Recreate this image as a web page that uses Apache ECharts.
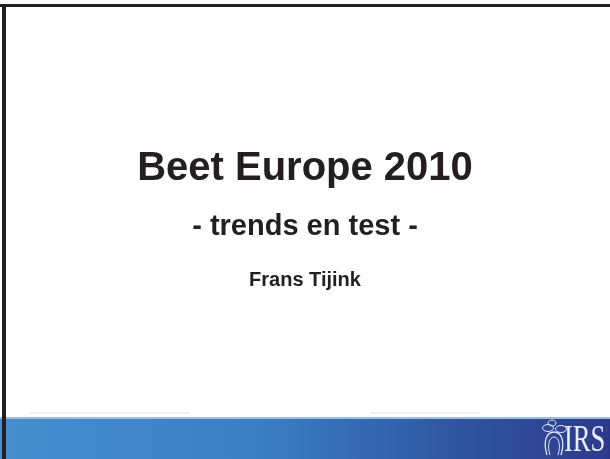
<!DOCTYPE html>
<html>
<head>
<meta charset="utf-8">
<script src="https://cdn.jsdelivr.net/npm/echarts@6/dist/echarts.min.js"></script>
<style>html,body{margin:0;padding:0;background:#fff;}#c{width:610px;height:459px;}</style>
</head>
<body>
<div id="c"></div>
<script>
const titleLines = ["Beet Europe 2010", "- trends en test -", "Frans Tijink"];
const logoText = "IRS";

const chart = echarts.init(document.getElementById('c'), null, {renderer: 'canvas'});
const font = '"Liberation Sans", Arial, sans-serif';
const logoStroke = '#dfe5f3';
const dx = -3;
chart.setOption({
  backgroundColor: '#ffffff',
  animation: false,
  graphic: [
    // bottom band
    {type: 'rect', shape: {x: 0, y: 418, width: 610, height: 41}, style: {
      fill: new echarts.graphic.LinearGradient(0, 0, 1, 0, [
        {offset: 0, color: '#4690cf'},
        {offset: 0.45, color: '#3a7cc2'},
        {offset: 0.75, color: '#2f55a0'},
        {offset: 1, color: '#2d3a8c'}
      ])}},
    {type: 'rect', shape: {x: 0, y: 417, width: 610, height: 2}, style: {fill: '#9cc0dc'}},
    // faint smudges above band
    {type: 'rect', shape: {x: 30, y: 412, width: 160, height: 2}, style: {fill: '#f0f0f0'}},
    {type: 'rect', shape: {x: 370, y: 412, width: 110, height: 2}, style: {fill: '#f0f0f0'}},
    // borders
    {type: 'rect', shape: {x: 0, y: 4, width: 610, height: 3}, style: {fill: '#231f20'}},
    {type: 'rect', shape: {x: 2, y: 4, width: 4, height: 455}, style: {fill: '#231f20'}},
    // titles
    {type: 'text', x: 305, y: 169, style: {text: titleLines[0], font: 'bold 40px ' + font, fill: '#231f20', textAlign: 'center', textVerticalAlign: 'middle'}},
    {type: 'text', x: 305, y: 227, style: {text: titleLines[1], font: 'bold 29px ' + font, fill: '#231f20', textAlign: 'center', textVerticalAlign: 'middle'}},
    {type: 'text', x: 305, y: 280, style: {text: titleLines[2], font: 'bold 20px ' + font, fill: '#231f20', textAlign: 'center', textVerticalAlign: 'middle'}},
    // logo
    {type: 'text', x: 567 + dx, y: 441, scaleX: 0.7, z: 10, style: {text: logoText, font: '38px "Liberation Serif", "Times New Roman", serif', fill: '#e8ecf6', textAlign: 'left', textVerticalAlign: 'middle'}},
    {type: 'bezierCurve', shape: {x1: 550 + dx, y1: 455, cpx1: 546 + dx, cpy1: 442, cpx2: 549 + dx, cpy2: 432, x2: 557 + dx, y2: 432}, style: {fill: null, stroke: logoStroke, lineWidth: 1.3}},
    {type: 'bezierCurve', shape: {x1: 557 + dx, y1: 432, cpx1: 565 + dx, cpy1: 432, cpx2: 568 + dx, cpy2: 442, x2: 564 + dx, y2: 455}, style: {fill: null, stroke: logoStroke, lineWidth: 1.3}},
    {type: 'bezierCurve', shape: {x1: 553 + dx, y1: 455, cpx1: 550 + dx, cpy1: 446, cpx2: 552 + dx, cpy2: 437, x2: 557 + dx, y2: 437}, style: {fill: null, stroke: logoStroke, lineWidth: 1}},
    {type: 'bezierCurve', shape: {x1: 557 + dx, y1: 437, cpx1: 562 + dx, cpy1: 437, cpx2: 564 + dx, cpy2: 446, x2: 561 + dx, y2: 455}, style: {fill: null, stroke: logoStroke, lineWidth: 1}},
    {type: 'ellipse', shape: {cx: 551 + dx, cy: 428, rx: 5.5, ry: 3.5}, style: {fill: null, stroke: logoStroke, lineWidth: 1}},
    {type: 'ellipse', shape: {cx: 564 + dx, cy: 429, rx: 5.5, ry: 3.5}, style: {fill: null, stroke: logoStroke, lineWidth: 1}},
    {type: 'ellipse', shape: {cx: 555 + dx, cy: 423, rx: 4, ry: 3}, style: {fill: null, stroke: logoStroke, lineWidth: 1}}
  ]
});
</script>
</body>
</html>
